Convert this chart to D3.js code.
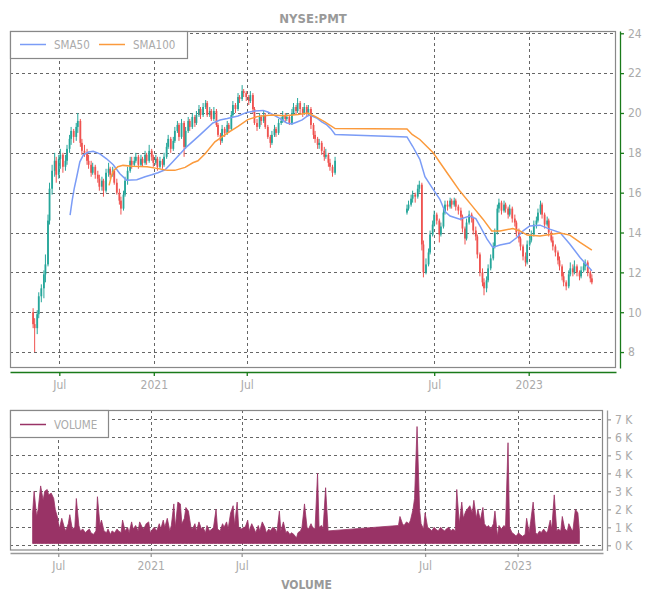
<!DOCTYPE html>
<html><head><meta charset="utf-8">
<script src="https://cdn.jsdelivr.net/npm/d3@7/dist/d3.min.js"></script>
<style>
body{margin:0;background:#fff;}
svg text{font-family:"DejaVu Sans Condensed","DejaVu Sans",sans-serif;}
</style></head><body>
<svg id="c" width="650" height="600"></svg>
<script>
const chartTitle = "NYSE:PMT";
const volumeTitle = "VOLUME";
const seg1Start = "2020-05-11";
const seg2Start = "2022-05-09";
// [open, high, low, close] every third trading day
const candles1 = [
[10.0,10.2,9.2,9.4],[9.4,9.7,8.0,9.2],[9.2,10.1,8.9,9.9],[9.9,11.0,9.7,10.8],[10.8,11.4,10.5,11.2],[11.2,12.1,10.7,11.9],[11.9,12.9,11.5,12.4],[12.4,14.9,12.3,14.6],[14.6,16.5,14.4,16.2],[16.2,17.4,15.9,17.1],
[17.1,18.0,16.8,17.6],[17.6,17.8,16.5,16.9],[16.9,17.9,16.7,17.7],[17.7,18.2,17.2,17.9],[17.9,18.0,17.0,17.3],[17.3,17.9,17.1,17.6],[17.6,18.4,17.4,18.2],[18.2,18.9,18.0,18.7],[18.7,19.3,18.4,19.1],[19.1,19.2,18.5,18.8],
[18.8,19.5,18.6,19.3],[19.3,20.0,19.0,19.6],[19.6,19.7,18.3,18.5],[18.5,18.7,17.9,18.1],[18.1,18.4,17.8,18.0],[18.0,18.2,17.4,17.6],[17.6,17.9,17.2,17.4],[17.4,17.6,16.8,17.0],[17.0,17.5,16.9,17.3],[17.3,17.4,16.7,16.9],
[16.9,17.1,16.5,16.7],[16.7,16.9,16.1,16.3],[16.3,16.8,16.1,16.6],[16.6,16.7,15.8,16.1],[16.1,17.2,16.0,17.0],[17.0,17.5,16.8,17.2],[17.2,17.3,16.7,16.9],[16.9,17.3,16.8,17.1],[17.1,17.2,16.4,16.5],[16.5,16.7,15.9,16.0],
[16.0,16.2,15.4,15.6],[15.6,15.8,14.9,15.2],[15.2,16.1,15.1,15.9],[15.9,16.8,15.8,16.6],[16.6,17.3,16.4,17.1],[17.1,17.8,17.0,17.6],[17.6,17.8,17.2,17.4],[17.4,17.8,17.3,17.6],[17.6,18.0,17.5,17.8],[17.8,17.9,17.2,17.4],
[17.4,17.9,17.3,17.7],[17.7,17.8,17.3,17.5],[17.5,18.1,17.4,17.9],[17.9,18.0,17.4,17.6],[17.6,18.4,17.5,18.1],[18.1,18.2,17.6,17.8],[17.8,17.9,17.3,17.5],[17.5,17.9,17.4,17.7],[17.7,17.8,17.1,17.3],[17.3,17.8,17.2,17.6],
[17.6,17.7,17.2,17.4],[17.4,18.0,17.3,17.8],[17.8,18.5,17.7,18.3],[18.3,18.9,18.2,18.7],[18.7,18.8,18.0,18.2],[18.2,18.8,18.1,18.6],[18.6,19.3,18.5,19.1],[19.1,19.6,19.0,19.4],[19.4,19.5,18.6,18.8],[18.8,19.7,18.7,19.5],
[19.5,19.6,17.8,18.3],[18.3,19.3,18.2,19.1],[19.1,19.8,19.0,19.6],[19.6,19.7,19.1,19.3],[19.3,20.0,19.2,19.8],[19.8,19.9,19.3,19.5],[19.5,20.1,19.4,19.9],[19.9,20.4,19.8,20.2],[20.2,20.3,19.7,19.9],[19.9,20.5,19.8,20.3],
[20.3,20.65,20.2,20.5],[20.5,20.6,19.8,19.9],[19.9,20.3,19.8,20.1],[20.1,20.2,19.6,19.7],[19.7,20.3,19.6,20.1],[20.1,20.2,19.3,19.4],[19.4,19.5,18.8,18.9],[18.9,19.0,18.4,18.6],[18.6,19.4,18.5,19.2],[19.2,19.3,18.8,19.0],
[19.0,19.6,18.9,19.4],[19.4,19.5,19.0,19.2],[19.2,20.1,19.1,19.9],[19.9,20.6,19.8,20.4],[20.4,20.5,20.0,20.2],[20.2,21.0,20.1,20.8],[20.8,20.9,20.5,20.7],[20.7,21.4,20.6,21.1],[21.1,21.2,20.8,21.0],[21.0,21.1,20.6,20.8],
[20.8,20.9,20.4,20.6],[20.6,21.1,20.5,20.9],[20.9,21.0,20.0,20.2],[20.2,20.3,19.4,19.5],[19.5,19.7,19.1,19.3],[19.3,20.0,19.2,19.8],[19.8,19.9,19.4,19.6],[19.6,20.1,19.5,19.9],[19.9,20.0,19.2,19.3],[19.3,19.4,18.7,18.8],
[18.8,18.9,18.25,18.5],[18.5,19.1,18.4,18.9],[18.9,19.4,18.8,19.2],[19.2,19.3,18.8,19.0],[19.0,19.7,18.9,19.5],[19.5,19.8,19.4,19.6],[19.6,20.1,19.5,19.9],[19.9,20.0,19.5,19.7],[19.7,20.0,19.6,19.8],[19.8,19.9,19.4,19.5],
[19.5,20.2,19.4,20.0],[20.0,20.5,19.9,20.3],[20.3,20.4,19.9,20.1],[20.1,20.75,20.0,20.5],[20.5,20.6,20.0,20.2],[20.2,20.3,19.8,20.0],[20.0,20.5,19.9,20.3],[20.3,20.4,19.8,20.0],[20.0,20.4,19.9,20.2],[20.2,20.3,19.2,19.4],
[19.4,19.5,18.7,18.9],[18.9,19.1,18.5,18.7],[18.7,18.8,18.2,18.4],[18.4,18.7,18.2,18.5],[18.5,18.6,17.9,18.1],[18.1,18.3,17.6,17.8],[17.8,18.2,17.7,17.9],[17.9,18.0,17.3,17.5],[17.5,17.7,17.1,17.3],[17.3,17.4,16.8,17.0],
[17.0,17.8,16.9,17.6]
];
const candles2 = [
[15.0,15.4,14.9,15.2],[15.2,15.6,15.1,15.4],[15.4,15.9,15.3,15.7],[15.7,16.1,15.5,15.9],[15.9,16.0,15.5,15.8],[15.8,16.4,15.7,16.2],[16.2,16.6,16.0,16.4],[16.4,16.5,13.1,13.4],[13.4,13.6,11.75,12.0],[12.0,12.7,11.9,12.4],
[12.4,13.2,12.3,13.0],[13.0,14.1,12.9,13.9],[13.9,14.6,13.8,14.4],[14.4,15.1,14.3,14.9],[14.9,15.0,14.4,14.6],[14.6,14.7,13.5,13.9],[13.9,14.5,13.8,14.3],[14.3,15.2,14.2,15.0],[15.0,15.6,14.9,15.4],[15.4,15.6,15.1,15.3],
[15.3,15.75,15.2,15.6],[15.6,15.7,15.2,15.4],[15.4,15.75,15.3,15.6],[15.6,15.7,15.1,15.3],[15.3,15.4,14.9,15.1],[15.1,15.25,14.6,14.8],[14.8,14.9,14.0,14.2],[14.2,14.3,13.4,13.7],[13.7,14.7,13.6,14.5],[14.5,15.1,14.4,14.9],
[14.9,15.0,14.5,14.7],[14.7,14.8,13.9,14.1],[14.1,14.3,13.6,13.8],[13.8,13.9,12.7,12.9],[12.9,13.0,11.8,12.0],[12.0,12.2,11.3,11.5],[11.5,11.7,10.85,11.2],[11.2,11.8,11.0,11.6],[11.6,12.4,11.5,12.2],[12.2,12.9,12.1,12.7],
[12.7,13.5,12.6,13.3],[13.3,14.2,13.2,14.0],[14.0,15.4,13.9,15.2],[15.2,15.7,15.0,15.5],[15.5,15.6,14.9,15.1],[15.1,15.6,15.0,15.4],[15.4,15.5,15.0,15.2],[15.2,15.3,14.7,14.9],[14.9,15.4,14.8,15.2],[15.2,15.3,14.5,14.7],
[14.7,14.9,14.3,14.5],[14.5,14.6,13.8,14.0],[14.0,14.2,13.5,13.7],[13.7,13.8,13.1,13.3],[13.3,13.4,12.6,12.8],[12.8,13.0,12.3,12.5],[12.5,13.6,12.4,13.4],[13.4,13.9,13.3,13.6],[13.6,14.1,13.5,13.9],[13.9,14.6,13.8,14.4],
[14.4,14.8,14.2,14.6],[14.6,15.2,14.5,15.0],[15.0,15.6,14.9,15.4],[15.4,15.5,14.7,14.9],[14.9,15.0,14.2,14.4],[14.4,14.8,14.3,14.6],[14.6,14.7,13.8,14.0],[14.0,14.1,13.5,13.6],[13.6,13.8,13.1,13.3],[13.3,13.4,12.8,13.0],
[13.0,13.1,12.4,12.6],[12.6,12.8,12.1,12.3],[12.3,12.4,11.6,11.8],[11.8,12.0,11.3,11.5],[11.5,11.6,11.1,11.3],[11.3,12.1,11.2,11.9],[11.9,12.5,11.8,12.2],[12.2,12.4,11.8,12.0],[12.0,12.6,11.9,12.3],[12.3,12.4,11.8,12.0],
[12.0,12.1,11.6,11.8],[11.8,12.3,11.7,12.1],[12.1,12.5,12.0,12.3],[12.3,12.65,12.1,12.5],[12.5,12.6,11.8,12.0],[12.0,12.1,11.5,11.7],[11.7,11.9,11.4,11.5]
];
// volume in thousands, same sampling
const volume1 = [
1.8,3.0,1.6,2.0,3.3,2.5,3.0,3.1,2.8,2.9,
2.6,2.0,1.5,0.9,1.5,1.0,0.8,1.2,1.7,0.9,
1.0,2.6,1.1,0.8,0.9,0.7,0.8,0.9,0.7,0.6,
0.8,2.7,1.1,1.4,0.8,0.7,0.9,0.6,0.8,0.7,
0.9,0.8,0.7,1.4,0.8,1.0,0.7,1.3,0.9,1.1,
0.8,1.3,1.0,0.9,1.2,1.3,0.7,0.9,1.0,0.8,
1.2,0.9,1.4,1.0,1.5,0.8,1.1,2.3,1.0,2.4,
2.3,1.2,1.5,2.1,1.9,1.0,0.9,1.2,0.8,1.3,
0.9,1.0,0.7,1.1,0.8,0.9,1.0,2.0,0.9,0.8,
1.2,1.0,1.3,0.9,1.8,2.2,1.1,2.4,1.0,0.9,
1.0,1.0,1.4,0.8,1.2,0.9,0.7,1.1,0.8,1.3,
1.0,0.7,0.9,0.8,1.0,0.9,0.7,1.9,0.8,1.3,
0.7,0.8,0.6,0.7,0.6,0.4,0.7,0.8,1.0,2.3,
1.0,0.9,1.2,1.0,0.9,4.0,1.0,1.1,0.9,3.2,
0.8
];
const volume2 = [
1.1,1.6,1.2,1.1,1.3,1.2,1.4,2.0,2.6,6.6,
2.0,1.2,0.9,1.8,1.0,0.9,0.8,1.0,0.9,0.8,
1.0,0.9,0.8,0.9,1.0,0.8,0.9,0.8,3.1,1.2,
2.4,1.5,1.9,2.0,2.2,1.8,2.5,1.5,2.0,1.4,
2.1,1.2,1.0,1.1,0.9,1.2,1.9,0.5,1.1,0.9,
1.1,1.0,5.7,1.0,0.7,0.6,0.5,0.7,0.6,0.5,
0.6,1.5,0.7,1.3,2.4,0.7,0.6,0.8,0.7,0.9,
0.7,0.8,1.4,0.9,2.8,0.8,0.9,0.8,1.6,0.9,
0.8,1.2,0.9,0.8,2.0,1.8,0.8
];
const sma50 = [
["2020-07-22",14.87],["2020-07-26",15.6],["2020-07-30",16.2],["2020-08-04",16.8],["2020-08-10",17.55],["2020-08-17",17.9],["2020-08-27",18.04],["2020-09-05",18.08],["2020-09-18",17.95],["2020-10-01",17.7],
["2020-10-14",17.4],["2020-10-27",16.95],["2020-11-09",16.63],["2020-11-29",16.65],["2020-12-15",16.8],["2020-12-28",16.9],["2021-01-09",17.0],["2021-01-23",17.15],["2021-02-07",17.55],["2021-03-06",18.3],
["2021-04-01",18.9],["2021-04-26",19.5],["2021-05-10",19.65],["2021-05-24",19.72],["2021-06-14",19.85],["2021-07-01",20.03],["2021-07-17",20.1],["2021-08-02",20.13],["2021-08-11",20.05],["2021-08-21",19.92],
["2021-09-04",19.72],["2021-09-17",19.5],["2021-09-27",19.45],["2021-10-07",19.55],["2021-10-17",19.65],["2021-10-26",19.83],["2021-11-01",19.9],["2021-11-14",19.75],["2021-11-24",19.55],["2021-12-04",19.4],
["2021-12-12",19.2],["2021-12-20",18.92],
["2022-05-09",18.8],["2022-05-20",18.33],["2022-06-03",17.67],["2022-06-13",16.8],["2022-06-29",16.17],["2022-07-12",15.67],["2022-07-22",15.05],["2022-08-01",14.83],
["2022-08-20",14.67],["2022-09-08",14.83],["2022-09-20",14.7],["2022-09-28",14.33],["2022-10-12",13.67],["2022-10-23",13.25],["2022-11-06",13.37],["2022-11-25",13.47],["2022-12-09",13.75],["2022-12-21",14.08],
["2023-01-03",14.33],["2023-01-23",14.37],["2023-02-11",14.17],["2023-03-03",14.0],["2023-03-22",13.42],["2023-04-11",12.75],["2023-05-04",12.08]
];
const sma100 = [
["2020-10-06",16.37],["2020-10-10",16.8],["2020-10-14",17.08],["2020-10-23",17.3],["2020-11-02",17.37],["2020-11-21",17.33],["2020-12-19",17.3],["2021-01-07",17.22],["2021-01-27",17.12],["2021-02-11",17.12],
["2021-03-03",17.27],["2021-03-18",17.5],["2021-03-28",17.6],["2021-04-11",17.95],["2021-04-30",18.55],["2021-05-25",19.0],["2021-06-14",19.33],["2021-07-03",19.67],["2021-07-23",19.83],["2021-08-19",19.9],
["2021-09-13",19.86],["2021-10-09",19.92],["2021-10-28",20.0],["2021-11-11",19.83],["2021-11-30",19.55],["2021-12-20",19.22],
["2022-05-09",19.2],["2022-05-19",18.92],["2022-06-03",18.67],["2022-06-29",18.0],["2022-07-26",17.0],["2022-08-20",16.08],["2022-09-14",15.3],["2022-10-04",14.67],["2022-10-21",14.08],["2022-11-06",14.08],
["2022-12-01",14.2],["2022-12-15",14.08],["2022-12-29",13.87],["2023-01-23",13.83],["2023-03-03",13.97],["2023-03-22",13.87],["2023-04-11",13.5],["2023-05-04",13.12]
];
const xTickDates = ["2020-07-01","2021-01-01","2021-07-01","2022-07-01","2023-01-01"];
const priceTicks = [8,10,12,14,16,18,20,22,24];
const volumeTicks = [0,1,2,3,4,5,6,7];
const legendMain = ["SMA50","SMA100"];
const colors = {up:"#26a69a", down:"#ef5350", sma50:"#7b9cf6", sma100:"#fb9a3c", vol:"#993366"};

const parse = d3.utcParse("%Y-%m-%d");
function sampleDates(start, n){
  const s = parse(start);
  const days = d3.utcDay.range(s, d3.utcDay.offset(s, n*5+10)).filter(d => d.getUTCDay() % 6 !== 0);
  return days.filter((d,i) => i % 3 === 0).slice(0, n);
}
const d1 = sampleDates(seg1Start, candles1.length);
const d2 = sampleDates(seg2Start, candles2.length);
const candles = candles1.map((c,i)=>({date:d1[i],o:c[0],h:c[1],l:c[2],c:c[3]}))
  .concat(candles2.map((c,i)=>({date:d2[i],o:c[0],h:c[1],l:c[2],c:c[3]})));
const vols = volume1.map((v,i)=>({date:d1[i],v})).concat(volume2.map((v,i)=>({date:d2[i],v})));

const svg = d3.select("#c");
const domain = [parse("2020-03-27"), parse("2023-06-20")];
const M = {l:10, r:616, t:31, b:368};
const V = {l:10, r:603, t:410, b:550.5};
const x = d3.scaleUtc().domain(domain).range([M.l, M.r]);
const y = d3.scaleLinear().domain([7.2, 24.115]).range([M.b, M.t]);
const xv = d3.scaleUtc().domain(domain).range([V.l, V.r]);
const yv = d3.scaleLinear().domain([-0.29, 7.52]).range([V.b, V.t]);
const ticks = xTickDates.map(parse);
const fmt = d => d.getUTCMonth() === 0 ? d3.utcFormat("%Y")(d) : d3.utcFormat("%b")(d);
const gridStyle = s => s.attr("stroke","#666").attr("stroke-width",1).attr("stroke-dasharray","3,3").attr("shape-rendering","crispEdges");

// title
svg.append("text").attr("x",(M.l+M.r)/2).attr("y",23).attr("text-anchor","middle")
  .attr("font-size",13).attr("font-weight","bold").attr("fill","#999").text(chartTitle);

// main grid
svg.append("g").selectAll("line").data(priceTicks).join("line")
  .attr("x1",M.l).attr("x2",M.r).attr("y1",d=>Math.round(y(d))+0.5).attr("y2",d=>Math.round(y(d))+0.5).call(gridStyle);
svg.append("g").selectAll("line").data(ticks).join("line")
  .attr("x1",d=>Math.round(x(d))+0.5).attr("x2",d=>Math.round(x(d))+0.5).attr("y1",M.t).attr("y2",M.b).call(gridStyle);

svg.append("clipPath").attr("id","mclip").append("rect").attr("x",M.l).attr("y",M.t).attr("width",M.r-M.l).attr("height",M.b-M.t);
const plot = svg.append("g").attr("clip-path","url(#mclip)");

// candles
const cg = plot.append("g");
cg.selectAll("line").data(candles).join("line")
  .attr("x1",d=>x(d.date)).attr("x2",d=>x(d.date)).attr("y1",d=>y(d.h)).attr("y2",d=>y(d.l))
  .attr("stroke",d=>d.c>=d.o?colors.up:colors.down).attr("stroke-width",1);
cg.selectAll("rect").data(candles).join("rect")
  .attr("x",d=>x(d.date)-0.9).attr("width",1.8)
  .attr("y",d=>y(Math.max(d.o,d.c))).attr("height",d=>Math.max(0.6, Math.abs(y(d.o)-y(d.c))))
  .attr("fill",d=>d.c>=d.o?colors.up:colors.down);

// SMA lines
const line = d3.line().x(d=>x(parse(d[0]))).y(d=>y(d[1]));
plot.append("path").attr("d",line(sma50)).attr("fill","none").attr("stroke",colors.sma50).attr("stroke-width",1.5);
plot.append("path").attr("d",line(sma100)).attr("fill","none").attr("stroke",colors.sma100).attr("stroke-width",1.5);

// main frame
svg.append("rect").attr("x",M.l+0.5).attr("y",M.t+0.5).attr("width",M.r-M.l-1).attr("height",M.b-M.t-1)
  .attr("fill","none").attr("stroke","#888").attr("stroke-width",1.2);

// axes
function styleAxis(g, col){
  g.select(".domain").attr("stroke",col).attr("stroke-width",1.3);
  g.selectAll(".tick line").attr("stroke",col).attr("stroke-width",1.3);
  g.selectAll(".tick text").attr("fill","#aaa").attr("font-size",12);
}
svg.append("g").attr("transform",`translate(${M.r+4},0)`)
  .call(d3.axisRight(y).tickValues(priceTicks).tickSize(4).tickSizeOuter(0).tickPadding(4))
  .call(g=>styleAxis(g,"#1a7a1a"));
svg.append("g").attr("transform",`translate(0,${M.b+4})`)
  .call(d3.axisBottom(x).tickValues(ticks).tickFormat(fmt).tickSize(4).tickSizeOuter(0).tickPadding(4))
  .call(g=>styleAxis(g,"#1a7a1a"));

// main legend
const lg = svg.append("g");
lg.append("rect").attr("x",M.l+0.5).attr("y",M.t+0.5).attr("width",177).attr("height",27).attr("fill","#fff").attr("stroke","#888").attr("stroke-width",1.2);
const legItems = [{name:legendMain[0],col:colors.sma50,x:20},{name:legendMain[1],col:colors.sma100,x:99}];
legItems.forEach(it=>{
  lg.append("line").attr("x1",it.x).attr("x2",it.x+26).attr("y1",44.5).attr("y2",44.5).attr("stroke",it.col).attr("stroke-width",1.5);
  lg.append("text").attr("x",it.x+34).attr("y",48.5).attr("font-size",11.5).attr("fill","#aaa").text(it.name);
});

// volume grid
svg.append("g").selectAll("line").data(volumeTicks).join("line")
  .attr("x1",V.l).attr("x2",V.r).attr("y1",d=>Math.round(yv(d))+0.5).attr("y2",d=>Math.round(yv(d))+0.5).call(gridStyle);
svg.append("g").selectAll("line").data(ticks).join("line")
  .attr("x1",d=>Math.round(xv(d))+0.5).attr("x2",d=>Math.round(xv(d))+0.5).attr("y1",V.t).attr("y2",V.b).call(gridStyle);

const area = d3.area().x(d=>xv(d.date)).y0(yv(0.1)).y1(d=>yv(d.v));
svg.append("path").attr("d",area(vols)).attr("fill",colors.vol).attr("stroke",colors.vol).attr("stroke-width",0.8);

svg.append("rect").attr("x",V.l+0.5).attr("y",V.t+0.5).attr("width",V.r-V.l-1).attr("height",V.b-V.t-1)
  .attr("fill","none").attr("stroke","#888").attr("stroke-width",1.2);

svg.append("g").attr("transform",`translate(${V.r+4},0)`)
  .call(d3.axisRight(yv).tickValues(volumeTicks).tickFormat(d=>d+" K").tickSize(4).tickSizeOuter(0).tickPadding(4))
  .call(g=>styleAxis(g,"#999"));
svg.append("g").attr("transform",`translate(0,${V.b+2.5})`)
  .call(d3.axisBottom(xv).tickValues(ticks).tickFormat(fmt).tickSize(4).tickSizeOuter(0).tickPadding(4))
  .call(g=>styleAxis(g,"#999"));

// volume legend
const vg = svg.append("g");
vg.append("rect").attr("x",V.l+0.5).attr("y",V.t+0.5).attr("width",98).attr("height",27).attr("fill","#fff").attr("stroke","#888").attr("stroke-width",1.2);
vg.append("line").attr("x1",20).attr("x2",46).attr("y1",424.5).attr("y2",424.5).attr("stroke",colors.vol).attr("stroke-width",1.5);
vg.append("text").attr("x",54).attr("y",428.5).attr("font-size",11.5).attr("fill","#aaa").text(volumeTitle);

svg.append("text").attr("x",(V.l+V.r)/2).attr("y",589).attr("text-anchor","middle")
  .attr("font-size",12).attr("font-weight","bold").attr("fill","#999").text(volumeTitle);
</script>
</body></html>
